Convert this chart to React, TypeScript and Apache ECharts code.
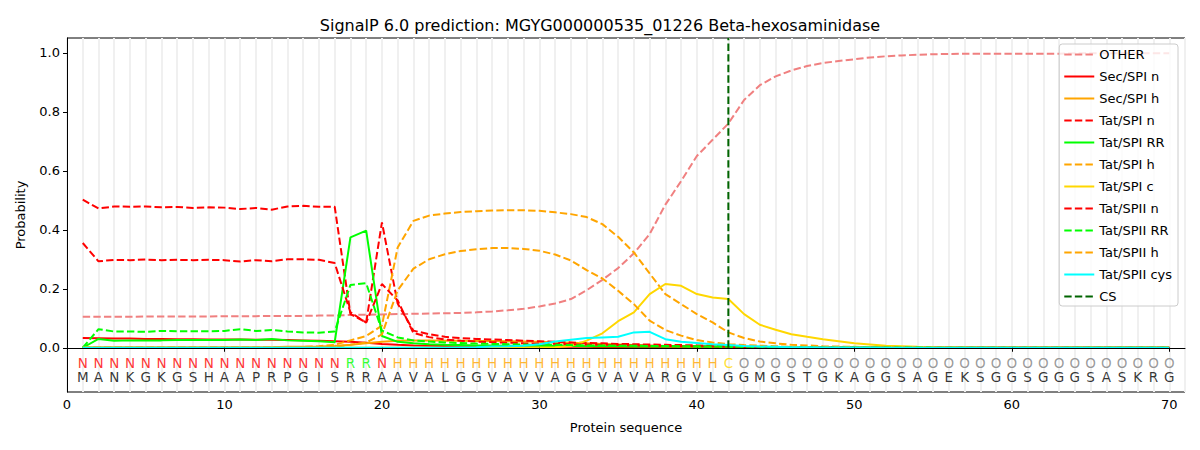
import React, { useEffect, useRef } from "react";
import * as echarts from "echarts";

const TITLE = "SignalP 6.0 prediction: MGYG000000535_01226 Beta-hexosaminidase";

const sequence = "MANKGKGSHAAPRPGISRRAAVALGGVAVVAGGVAVARGVLGGMGSTGKAGGSAGEKSGGSGGGSASKRG".split("");
const regionLabels = "NNNNNNNNNNNNNNNNNRRNHHHHHHHHHHHHHHHHHHHHHCOOOOOOOOOOOOOOOOOOOOOOOOOOOO".split("");

const xTicks = [0, 10, 20, 30, 40, 50, 60, 70];
const yTicks = [0, 0.2, 0.4, 0.6, 0.8, 1.0];
const csPosition = 42;

const other = [
  0.105, 0.105, 0.105, 0.105, 0.106, 0.106, 0.106, 0.106, 0.106, 0.107,
  0.107, 0.107, 0.108, 0.108, 0.108, 0.109, 0.109, 0.111, 0.112, 0.113,
  0.114, 0.115, 0.116, 0.117, 0.118, 0.12, 0.123, 0.127, 0.132, 0.14,
  0.15, 0.165, 0.195, 0.23, 0.27, 0.32, 0.385, 0.485, 0.565, 0.65,
  0.705, 0.76, 0.84, 0.89, 0.92, 0.94, 0.955, 0.965, 0.972, 0.978,
  0.984, 0.988, 0.991, 0.993, 0.995, 0.996, 0.997, 0.997, 0.997, 0.997,
  0.997, 0.997, 0.997, 0.998, 0.998, 0.998, 0.998, 0.998, 0.998, 0.998,
];
const secSpiN = [
  0.033, 0.032, 0.031, 0.031, 0.03, 0.03, 0.029, 0.029, 0.028, 0.028,
  0.028, 0.027, 0.027, 0.026, 0.025, 0.024, 0.022, 0.02, 0.017, 0.013,
  0.01, 0.008, 0.007, 0.006, 0.005, 0.005, 0.004, 0.004, 0.004, 0.003,
  0.003, 0.003, 0.003, 0.002, 0.002, 0.002, 0.002, 0.002, 0.002, 0.002,
  0.001, 0.001, 0.001, 0.001, 0.001, 0.001, 0.001, 0.001, 0.001, 0.001,
  0, 0, 0, 0, 0, 0, 0, 0, 0, 0,
  0, 0, 0, 0, 0, 0, 0, 0, 0, 0,
];
const secSpiH = [
  0.002, 0.002, 0.002, 0.002, 0.002, 0.002, 0.002, 0.002, 0.002, 0.002,
  0.002, 0.002, 0.002, 0.003, 0.003, 0.004, 0.006, 0.01, 0.015, 0.02,
  0.024, 0.025, 0.025, 0.024, 0.024, 0.023, 0.023, 0.022, 0.021, 0.02,
  0.019, 0.017, 0.015, 0.013, 0.011, 0.009, 0.007, 0.005, 0.004, 0.003,
  0.002, 0.002, 0.001, 0.001, 0.001, 0.001, 0.001, 0.001, 0, 0,
  0, 0, 0, 0, 0, 0, 0, 0, 0, 0,
  0, 0, 0, 0, 0, 0, 0, 0, 0, 0,
];
const tatSpiN = [
  0.502, 0.472, 0.479, 0.478, 0.479, 0.476, 0.477, 0.474, 0.476, 0.475,
  0.47, 0.474, 0.468, 0.479, 0.481, 0.478, 0.478, 0.114, 0.086, 0.425,
  0.15, 0.058, 0.046, 0.037, 0.033, 0.03, 0.028, 0.026, 0.024, 0.022,
  0.02, 0.018, 0.016, 0.015, 0.013, 0.012, 0.011, 0.01, 0.009, 0.008,
  0.007, 0.006, 0.004, 0.003, 0.002, 0.002, 0.001, 0.001, 0.001, 0.001,
  0.001, 0.001, 0, 0, 0, 0, 0, 0, 0, 0,
  0, 0, 0, 0, 0, 0, 0, 0, 0, 0,
];
const tatSpiRR = [
  0, 0.03, 0.024, 0.025, 0.025, 0.025, 0.026, 0.026, 0.026, 0.026,
  0.028, 0.026, 0.03, 0.025, 0.024, 0.022, 0.019, 0.374, 0.397, 0.04,
  0.02, 0.015, 0.012, 0.01, 0.009, 0.008, 0.008, 0.007, 0.007, 0.006,
  0.006, 0.006, 0.005, 0.005, 0.005, 0.004, 0.004, 0.004, 0.004, 0.003,
  0.003, 0.003, 0.002, 0.002, 0.002, 0.001, 0.001, 0.001, 0.001, 0.001,
  0.001, 0.001, 0.001, 0, 0, 0, 0, 0, 0, 0,
  0, 0, 0, 0, 0, 0, 0, 0, 0, 0,
];
const tatSpiH = [
  0.001, 0.001, 0.001, 0.001, 0.001, 0.001, 0.001, 0.001, 0.001, 0.001,
  0.001, 0.001, 0.001, 0.002, 0.003, 0.005, 0.01, 0.025, 0.04, 0.075,
  0.34, 0.43, 0.448, 0.455, 0.46, 0.463, 0.465, 0.466, 0.466, 0.464,
  0.459, 0.453, 0.443, 0.419, 0.376, 0.323, 0.252, 0.182, 0.148, 0.114,
  0.086, 0.052, 0.033, 0.021, 0.015, 0.01, 0.008, 0.005, 0.004, 0.003,
  0.002, 0.002, 0.001, 0.001, 0.001, 0.001, 0, 0, 0, 0,
  0, 0, 0, 0, 0, 0, 0, 0, 0, 0,
];
const tatSpiC = [
  0, 0, 0, 0, 0, 0, 0, 0, 0, 0,
  0, 0, 0, 0, 0, 0, 0, 0, 0, 0,
  0, 0, 0, 0, 0, 0, 0, 0, 0.001, 0.001,
  0.002, 0.006, 0.024, 0.049, 0.09, 0.12, 0.182, 0.216, 0.21, 0.182,
  0.17, 0.165, 0.114, 0.078, 0.061, 0.046, 0.037, 0.029, 0.022, 0.015,
  0.011, 0.007, 0.005, 0.003, 0.002, 0.001, 0.001, 0, 0, 0,
  0, 0, 0, 0, 0, 0, 0, 0, 0, 0,
];
const tatSpiiN = [
  0.355, 0.293, 0.298, 0.297, 0.299, 0.297, 0.298, 0.297, 0.298, 0.297,
  0.292, 0.297, 0.293, 0.3, 0.3, 0.298, 0.287, 0.12, 0.085, 0.216,
  0.16, 0.05, 0.036, 0.028, 0.024, 0.021, 0.019, 0.017, 0.015, 0.014,
  0.013, 0.012, 0.011, 0.01, 0.009, 0.008, 0.007, 0.006, 0.005, 0.005,
  0.004, 0.003, 0.002, 0.002, 0.001, 0.001, 0.001, 0.001, 0, 0,
  0, 0, 0, 0, 0, 0, 0, 0, 0, 0,
  0, 0, 0, 0, 0, 0, 0, 0, 0, 0,
];
const tatSpiiRR = [
  0, 0.063, 0.055, 0.055, 0.054, 0.057, 0.056, 0.056, 0.056, 0.057,
  0.063, 0.057, 0.06, 0.055, 0.052, 0.051, 0.055, 0.213, 0.219, 0.058,
  0.035, 0.025, 0.021, 0.018, 0.016, 0.014, 0.013, 0.012, 0.011, 0.01,
  0.01, 0.009, 0.008, 0.008, 0.007, 0.007, 0.006, 0.006, 0.005, 0.005,
  0.004, 0.004, 0.003, 0.003, 0.002, 0.002, 0.002, 0.001, 0.001, 0.001,
  0.001, 0.001, 0.001, 0.001, 0, 0, 0, 0, 0, 0,
  0, 0, 0, 0, 0, 0, 0, 0, 0, 0,
];
const tatSpiiH = [
  0.001, 0.001, 0.001, 0.001, 0.001, 0.001, 0.001, 0.001, 0.001, 0.001,
  0.001, 0.001, 0.001, 0.001, 0.001, 0.002, 0.004, 0.01, 0.018, 0.045,
  0.195, 0.268, 0.3, 0.317, 0.328, 0.334, 0.338, 0.338, 0.335, 0.329,
  0.316, 0.296, 0.263, 0.235, 0.193, 0.148, 0.092, 0.06, 0.041, 0.026,
  0.018, 0.012, 0.009, 0.007, 0.005, 0.003, 0.002, 0.001, 0.001, 0.001,
  0, 0, 0, 0, 0, 0, 0, 0, 0, 0,
  0, 0, 0, 0, 0, 0, 0, 0, 0, 0,
];
const tatSpiiCys = [
  0, 0, 0, 0, 0, 0, 0, 0, 0, 0,
  0, 0, 0, 0, 0, 0, 0, 0, 0, 0,
  0, 0, 0, 0, 0.001, 0.002, 0.004, 0.005, 0.007, 0.012,
  0.021, 0.027, 0.033, 0.035, 0.037, 0.052, 0.054, 0.029, 0.02, 0.016,
  0.012, 0.009, 0.006, 0.004, 0.003, 0.002, 0.002, 0.001, 0.001, 0.001,
  0.001, 0, 0, 0, 0, 0, 0, 0, 0, 0,
  0, 0, 0, 0, 0, 0, 0, 0, 0, 0,
];

const FONT = "DejaVu Sans";
const DASH = [7.4, 3.2];

const labelColors: Record<string, string> = {
  N: "#ff0000",
  R: "#00ff00",
  H: "#ffa500",
  C: "#ffd700",
  O: "#808080",
};

type SeriesDef = { name: string; values: number[]; color: string; dashed: boolean };

const seriesDefs: SeriesDef[] = [
  { name: "OTHER", values: other, color: "#f08080", dashed: true },
  { name: "Sec/SPI n", values: secSpiN, color: "#ff0000", dashed: false },
  { name: "Sec/SPI h", values: secSpiH, color: "#ffa500", dashed: false },
  { name: "Tat/SPI n", values: tatSpiN, color: "#ff0000", dashed: true },
  { name: "Tat/SPI RR", values: tatSpiRR, color: "#00ff00", dashed: false },
  { name: "Tat/SPI h", values: tatSpiH, color: "#ffa500", dashed: true },
  { name: "Tat/SPI c", values: tatSpiC, color: "#ffd700", dashed: false },
  { name: "Tat/SPII n", values: tatSpiiN, color: "#ff0000", dashed: true },
  { name: "Tat/SPII RR", values: tatSpiiRR, color: "#00ff00", dashed: true },
  { name: "Tat/SPII h", values: tatSpiiH, color: "#ffa500", dashed: true },
  { name: "Tat/SPII cys", values: tatSpiiCys, color: "#00ffff", dashed: false },
];

export default function App() {
  const ref = useRef<HTMLDivElement>(null);

  useEffect(() => {
    if (!ref.current) return;
    const chart = echarts.init(ref.current, undefined, { renderer: "svg" });

    const lineSeries: any[] = seriesDefs.map((d) => ({
      name: d.name,
      type: "line",
      xAxisIndex: 0,
      yAxisIndex: 0,
      symbol: "none",
      data: d.values.map((v, i) => [i + 1, v]),
      lineStyle: { color: d.color, width: 2, type: d.dashed ? DASH : "solid" },
      itemStyle: { color: d.color },
      emphasis: { disabled: true },
    }));

    lineSeries.push({
      name: "CS",
      type: "line",
      xAxisIndex: 0,
      yAxisIndex: 0,
      symbol: "none",
      data: [
        [csPosition, 0],
        [csPosition, 1.05],
      ],
      lineStyle: { color: "#006400", width: 2, type: DASH },
      itemStyle: { color: "#006400" },
      emphasis: { disabled: true },
    });

    const textSeries = (letters: string[], y: number, colorFn: (l: string) => string) => ({
      type: "scatter",
      xAxisIndex: 0,
      yAxisIndex: 0,
      symbol: "circle",
      symbolSize: 1,
      itemStyle: { color: "rgba(0,0,0,0)" },
      silent: true,
      data: letters.map((l, i) => ({
        value: [i + 1, y],
        label: {
          show: true,
          position: "inside",
          formatter: l,
          color: colorFn(l),
          fontSize: 13.5,
          fontFamily: FONT,
        },
      })),
    });

    const option: any = {
      animation: false,
      backgroundColor: "#ffffff",
      title: {
        text: TITLE,
        left: "center",
        top: 12,
        textStyle: { fontFamily: FONT, fontSize: 16, fontWeight: "normal", color: "#000" },
      },
      legend: {
        data: [...seriesDefs.map((d) => d.name), "CS"],
        orient: "vertical",
        right: 22,
        top: 44,
        itemWidth: 30,
        itemHeight: 14,
        itemGap: 9,
        padding: [4, 6, 3, 4],
        backgroundColor: "rgba(255,255,255,0.8)",
        borderColor: "#cccccc",
        borderWidth: 1,
        borderRadius: 3,
        selectedMode: false,
        itemStyle: { color: "rgba(0,0,0,0)", borderColor: "rgba(0,0,0,0)", borderWidth: 0, opacity: 0 },
        textStyle: { fontFamily: FONT, fontSize: 13, color: "#000" },
      },
      grid: {
        left: 67,
        right: 15,
        top: 38,
        bottom: 58,
        show: true,
        borderColor: "#000",
        borderWidth: 1,
        backgroundColor: "transparent",
      },
      xAxis: [
        {
          type: "value",
          min: 0,
          max: 71,
          name: "Protein sequence",
          nameLocation: "middle",
          nameGap: 29,
          nameTextStyle: { fontFamily: FONT, fontSize: 13, color: "#000" },
          axisLine: { show: true, lineStyle: { color: "#000", width: 1 } },
          axisTick: { show: true, length: 4, customValues: xTicks, lineStyle: { color: "#000" } },
          axisLabel: {
            customValues: xTicks,
            fontFamily: FONT,
            fontSize: 13,
            color: "#000",
            margin: 6,
          },
          splitLine: { show: false },
          z: 5,
        },
        {
          type: "value",
          min: 0,
          max: 71,
          interval: 1,
          show: true,
          axisLine: { show: false },
          axisTick: { show: false },
          axisLabel: { show: false },
          splitLine: { show: true, lineStyle: { color: "#f0f0f0", width: 2 } },
          z: 0,
        },
      ],
      yAxis: {
        type: "value",
        min: -0.15,
        max: 1.05,
        name: "Probability",
        nameLocation: "middle",
        nameGap: 40,
        nameTextStyle: { fontFamily: FONT, fontSize: 13, color: "#000" },
        axisLine: { show: true, lineStyle: { color: "#000", width: 1 } },
        axisTick: { show: true, length: 4, customValues: yTicks, lineStyle: { color: "#000" } },
        axisLabel: {
          customValues: yTicks,
          formatter: (v: number) => v.toFixed(1),
          fontFamily: FONT,
          fontSize: 13,
          color: "#000",
          margin: 7,
        },
        splitLine: { show: false },
      },
      series: [
        ...lineSeries,
        textSeries(regionLabels, -0.05, (l) => labelColors[l] || "#000"),
        textSeries(sequence, -0.1, () => "#000"),
      ],
    };

    chart.setOption(option);
    return () => chart.dispose();
  }, []);

  return (
    <div
      ref={ref}
      style={{ position: "fixed", left: 0, top: 0, width: 1200, height: 450, background: "#fff" }}
    />
  );
}
